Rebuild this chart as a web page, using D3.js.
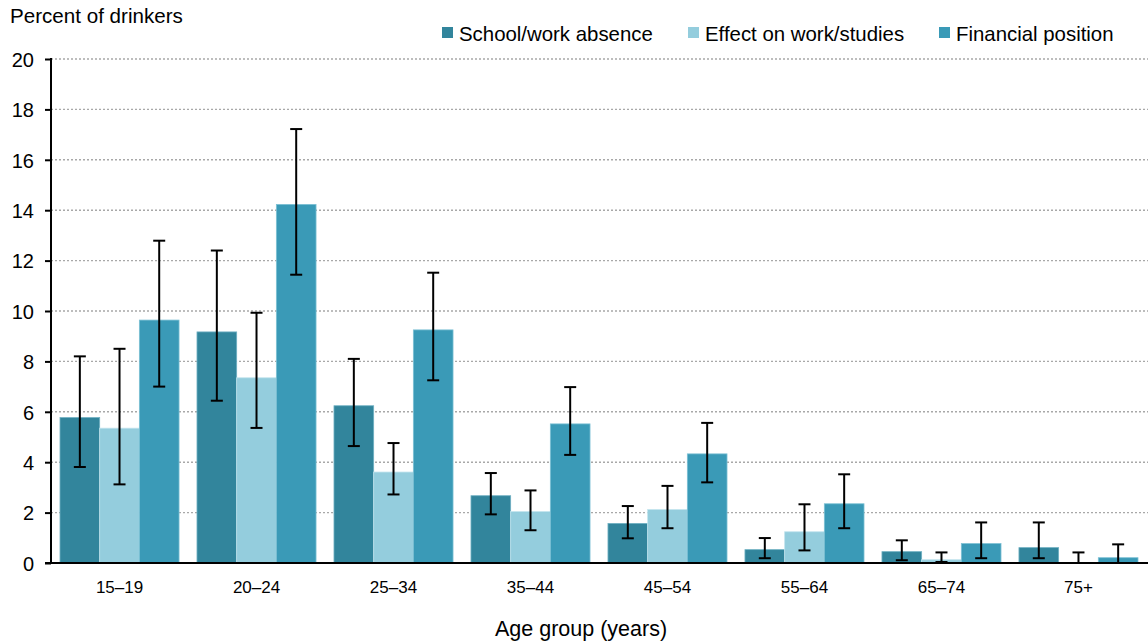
<!DOCTYPE html>
<html>
<head>
<meta charset="utf-8">
<script src="https://cdn.jsdelivr.net/npm/d3@7"></script>
<style>
  html, body { margin: 0; padding: 0; background: #fff; }
  svg { display: block; font-family: "Liberation Sans", Arial, sans-serif; }
</style>
</head>
<body>
<svg id="chart" width="1148" height="644"></svg>
<script>
// Age groups on the x axis
const ageGroups = ["15–19", "20–24", "25–34", "35–44", "45–54", "55–64", "65–74", "75+"];

// Series names (legend order)
const seriesNames = ["School/work absence", "Effect on work/studies", "Financial position"];

// Point estimates, percent of drinkers
const schoolWork = [5.77, 9.17, 6.24, 2.67, 1.57, 0.53, 0.45, 0.61];
const effectWork = [5.35, 7.35, 3.61, 2.04, 2.12, 1.24, 0.13, 0.0];
const financial  = [9.64, 14.23, 9.25, 5.52, 4.33, 2.35, 0.77, 0.21];

// 95% confidence interval bounds
const schoolLow  = [3.81, 6.44, 4.64, 1.93, 0.98, 0.19, 0.11, 0.19];
const schoolHigh = [8.20, 12.40, 8.10, 3.57, 2.26, 0.99, 0.90, 1.61];
const effectLow  = [3.12, 5.36, 2.72, 1.30, 1.38, 0.50, 0.04, 0.0];
const effectHigh = [8.50, 9.93, 4.76, 2.88, 3.06, 2.33, 0.42, 0.42];
const finLow     = [7.00, 11.44, 7.25, 4.29, 3.20, 1.38, 0.19, 0.0];
const finHigh    = [12.79, 17.22, 11.52, 6.98, 5.56, 3.52, 1.61, 0.74];

// Y axis tick values
const yTicks = [0, 2, 4, 6, 8, 10, 12, 14, 16, 18, 20];

const colors = ["#32859c", "#94cddd", "#3a9ab7"];
const edgeColors = ["#6fb0c2", "#c2e4ee", "#7cc0d4"];

const series = [
  { name: seriesNames[0], values: schoolWork, low: schoolLow, high: schoolHigh },
  { name: seriesNames[1], values: effectWork, low: effectLow, high: effectHigh },
  { name: seriesNames[2], values: financial,  low: finLow,    high: finHigh }
];

const svg = d3.select("#chart");

const plotLeft = 51, plotRight = 1147, plotTop = 59, plotBottom = 563;

const x0 = d3.scaleBand()
  .domain(ageGroups)
  .range([plotLeft, plotRight])
  .paddingInner(0.131)
  .paddingOuter(0.0657);

const x1 = d3.scaleBand()
  .domain(d3.range(series.length))
  .range([0, x0.bandwidth()])
  .padding(0);

const y = d3.scaleLinear().domain([0, 20]).range([plotBottom, plotTop]);

// Dotted horizontal gridlines
svg.append("g")
  .selectAll("line")
  .data(yTicks.filter(d => d > 0))
  .join("line")
  .attr("x1", plotLeft)
  .attr("x2", 1148)
  .attr("y1", d => y(d))
  .attr("y2", d => y(d))
  .attr("stroke", "#a8a8a8")
  .attr("stroke-width", 1.4)
  .attr("stroke-dasharray", "2,2");

// Bars
const groups = svg.append("g")
  .selectAll("g")
  .data(ageGroups)
  .join("g")
  .attr("transform", d => `translate(${x0(d)},0)`);

groups.selectAll("rect")
  .data((d, i) => series.map((s, k) => ({ k, v: s.values[i] })))
  .join("rect")
  .attr("x", d => x1(d.k))
  .attr("width", x1.bandwidth())
  .attr("y", d => y(d.v))
  .attr("height", d => y(0) - y(d.v))
  .attr("fill", d => colors[d.k])
  .attr("stroke", d => d.v > 0 ? edgeColors[d.k] : "none")
  .attr("stroke-width", 0.8);

// Error bars
const capHalf = 6;
const errData = [];
ageGroups.forEach((g, i) => {
  series.forEach((s, k) => {
    errData.push({ g, k, lo: s.low[i], hi: s.high[i] });
  });
});

const err = svg.append("g")
  .attr("stroke", "#000")
  .attr("stroke-width", 2)
  .selectAll("g")
  .data(errData)
  .join("g")
  .attr("transform", d => `translate(${x0(d.g) + x1(d.k) + x1.bandwidth() / 2},0)`);

err.append("line")
  .attr("x1", 0).attr("x2", 0)
  .attr("y1", d => y(d.lo)).attr("y2", d => y(d.hi));
err.append("line")
  .attr("x1", -capHalf).attr("x2", capHalf)
  .attr("y1", d => y(d.hi)).attr("y2", d => y(d.hi));
err.append("line")
  .attr("x1", -capHalf).attr("x2", capHalf)
  .attr("y1", d => y(d.lo)).attr("y2", d => y(d.lo));

// Y axis
const yAxis = svg.append("g")
  .attr("transform", `translate(${plotLeft},0)`)
  .call(d3.axisLeft(y).tickValues(yTicks).tickSize(6).tickSizeOuter(0).tickPadding(11));
yAxis.select(".domain").attr("stroke", "#000").attr("stroke-width", 2)
  .attr("d", `M0,${plotBottom}V${plotTop - 1}`);
yAxis.selectAll(".tick line").attr("stroke", "#000").attr("stroke-width", 2);
yAxis.selectAll(".tick text")
  .attr("fill", "#000")
  .style("font-size", "20px")
  .attr("dy", "0.36em");

// X axis baseline
svg.append("line")
  .attr("x1", 45).attr("x2", 1148)
  .attr("y1", y(0)).attr("y2", y(0))
  .attr("stroke", "#000").attr("stroke-width", 2);

// X tick labels
svg.append("g")
  .selectAll("text")
  .data(ageGroups)
  .join("text")
  .attr("x", d => x0(d) + x0.bandwidth() / 2)
  .attr("y", 593)
  .attr("text-anchor", "middle")
  .style("font-size", "17px")
  .attr("fill", "#000")
  .text(d => d);

// Axis titles
svg.append("text")
  .attr("x", 10).attr("y", 23)
  .style("font-size", "20.6px")
  .attr("fill", "#000")
  .text("Percent of drinkers");

svg.append("text")
  .attr("x", 581).attr("y", 636)
  .attr("text-anchor", "middle")
  .style("font-size", "21.5px")
  .attr("fill", "#000")
  .text("Age group (years)");

// Legend
const legendX = [442, 688, 939];
const legend = svg.append("g")
  .selectAll("g")
  .data(series)
  .join("g")
  .attr("transform", (d, i) => `translate(${legendX[i]},0)`);
legend.append("rect")
  .attr("x", 0).attr("y", 27)
  .attr("width", 11).attr("height", 11)
  .attr("fill", (d, i) => colors[i]);
legend.append("text")
  .attr("x", 17).attr("y", 41)
  .style("font-size", "20.4px")
  .attr("fill", "#000")
  .text(d => d.name);
</script>
</body>
</html>
